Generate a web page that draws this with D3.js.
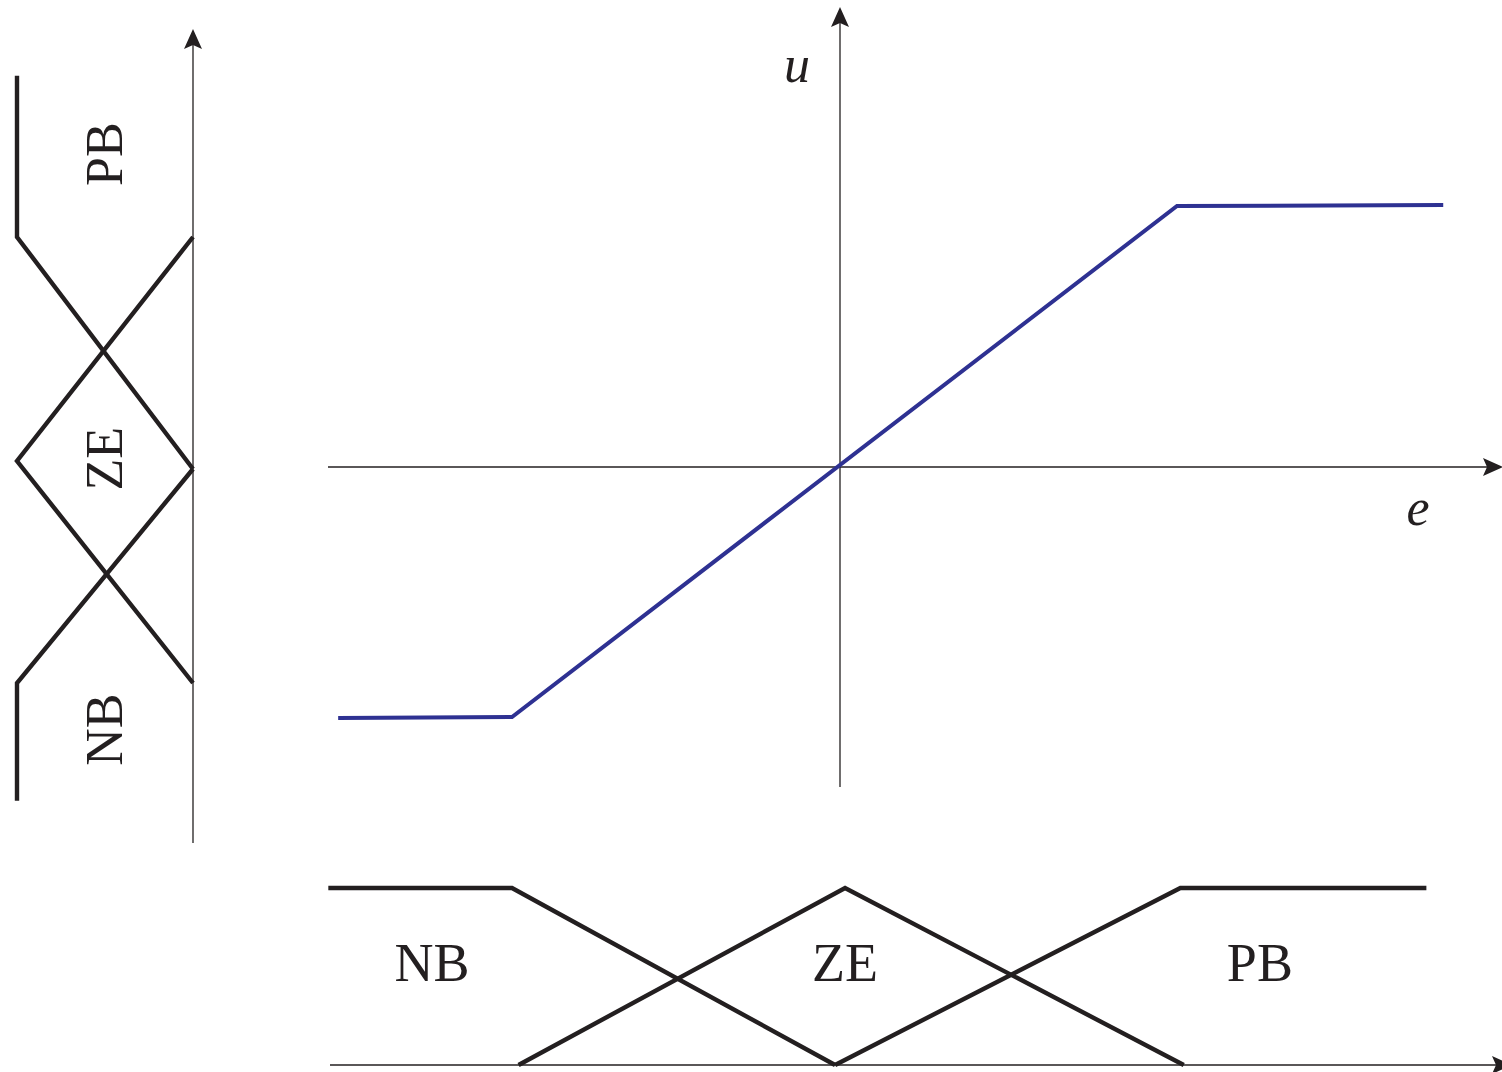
<!DOCTYPE html>
<html>
<head>
<meta charset="utf-8">
<script src="https://cdn.jsdelivr.net/npm/d3@7"></script>
<style>
  html, body { margin: 0; padding: 0; background: #fff; }
  svg { display: block; }
  text { font-family: "Liberation Serif", "Times New Roman", Times, serif; fill: #231f20; }
</style>
</head>
<body>
<svg id="chart" width="1502" height="1072"></svg>
<script>
// Control surface u(e): saturated linear law
const surfaceE = [-1.53, -1, 1, 1.79];
const surfaceU = [-1.004, -1, 1, 1.004];

// Membership functions of the error e (bottom panel): [e, mu]
const eSets = ["NB", "ZE", "PB"];
const eNB = [[-1.56, 1], [-1, 1], [-0.015, 0]];
const eZE = [[-0.98, 0], [0.015, 1], [1.02, 0]];
const ePB = [[-0.015, 0], [1.01, 1], [1.74, 1]];
const eLabelPos = [-1.244, 0.015, 1.246];

// Membership functions of the output u (left panel): [u, mu]
const uSets = ["NB", "ZE", "PB"];
const uNB = [[-0.036, 0], [-1, 1], [-1.53, 1]];
const uZE = [[1, 0], [0, 1], [-1, 0]];
const uPB = [[1.72, 1], [1, 1], [-0.036, 0]];
const uLabelPos = [-1.21, 0.01, 1.37];

const axisNames = { e: "e", u: "u" };

const svg = d3.select("#chart");
const ink = "#231f20";
const blue = "#2e3192";

// Scales of the main e-u plane
const xE = d3.scaleLinear().domain([-1, 0, 1]).range([512, 840, 1177]);
const yU = d3.scaleLinear().domain([-1, 0, 1]).range([717, 467, 206]);

// Bottom panel: membership grade vs e
const yMuB = d3.scaleLinear().domain([0, 1]).range([1065, 888]);
// Left panel: membership grade vs u
const xMuL = d3.scaleLinear().domain([0, 1]).range([193, 17]);
const yUL = d3.scaleLinear().domain([-1, 0, 1]).range([683, 461, 237]);

// Arrow head pointing along +x at origin, notched at the base
function arrowHead(g, x, y, angle) {
  g.append("path")
    .attr("d", "M0,0 L-20,-9 L-16,0 L-20,9 Z")
    .attr("transform", `translate(${x},${y}) rotate(${angle})`)
    .attr("fill", ink);
}

const axes = svg.append("g").attr("stroke", ink).attr("stroke-width", 1.3).attr("fill", "none");

// Main e axis
axes.append("line").attr("x1", 328).attr("x2", 1490).attr("y1", yU(0)).attr("y2", yU(0));
arrowHead(svg, 1503, yU(0), 0);
// Main u axis
axes.append("line").attr("x1", xE(0)).attr("x2", xE(0)).attr("y1", 787).attr("y2", 20);
arrowHead(svg, xE(0), 7, -90);

// Bottom baseline (mu = 0)
axes.append("line").attr("x1", 330).attr("x2", 1500).attr("y1", yMuB(0)).attr("y2", yMuB(0));
arrowHead(svg, 1512, yMuB(0), 0);

// Left baseline (mu = 0)
axes.append("line").attr("x1", xMuL(0)).attr("x2", xMuL(0)).attr("y1", 843).attr("y2", 42);
arrowHead(svg, xMuL(0), 29, -90);

// Axis names
svg.append("text").attr("x", 797).attr("y", 82)
  .attr("text-anchor", "middle").attr("font-style", "italic").attr("font-size", 52)
  .text(axisNames.u);
svg.append("text").attr("x", 1418).attr("y", 525)
  .attr("text-anchor", "middle").attr("font-style", "italic").attr("font-size", 52)
  .text(axisNames.e);

// Control surface
const surface = surfaceE.map((e, i) => [e, surfaceU[i]]);
svg.append("path")
  .datum(surface)
  .attr("d", d3.line().x(d => xE(d[0])).y(d => yU(d[1])))
  .attr("fill", "none").attr("stroke", blue).attr("stroke-width", 4)
  .attr("stroke-linejoin", "miter");

// Bottom membership functions
const lineB = d3.line().x(d => xE(d[0])).y(d => yMuB(d[1]));
svg.append("g").selectAll("path")
  .data([eNB, eZE, ePB]).join("path")
  .attr("d", lineB)
  .attr("fill", "none").attr("stroke", ink).attr("stroke-width", 4.4)
  .attr("stroke-linejoin", "miter");
svg.append("g").selectAll("text")
  .data(eSets).join("text")
  .attr("x", (d, i) => xE(eLabelPos[i]))
  .attr("y", 981)
  .attr("text-anchor", "middle").attr("font-size", 54)
  .text(d => d);

// Left membership functions
const lineL = d3.line().x(d => xMuL(d[1])).y(d => yUL(d[0]));
svg.append("g").selectAll("path")
  .data([uNB, uZE, uPB]).join("path")
  .attr("d", lineL)
  .attr("fill", "none").attr("stroke", ink).attr("stroke-width", 4.4)
  .attr("stroke-linejoin", "miter");
svg.append("g").selectAll("text")
  .data(uSets).join("text")
  .attr("transform", (d, i) => `translate(122,${yUL(uLabelPos[i])}) rotate(-90)`)
  .attr("text-anchor", "middle").attr("font-size", 52)
  .text(d => d);
</script>
</body>
</html>
